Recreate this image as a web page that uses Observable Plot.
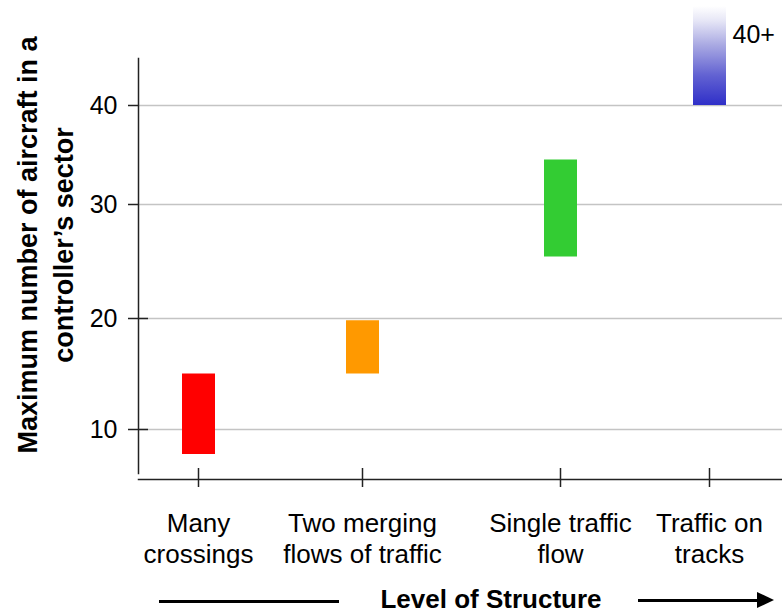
<!DOCTYPE html>
<html>
<head>
<meta charset="utf-8">
<script src="https://cdn.jsdelivr.net/npm/d3@7"></script>
<script src="https://cdn.jsdelivr.net/npm/@observablehq/plot@0.6"></script>
<style>
  html, body { margin: 0; padding: 0; background: #fff; }
  #wrap { position: relative; width: 782px; height: 613px; overflow: hidden; font-family: "Liberation Sans", Arial, sans-serif; }
  #wrap svg { display: block; }
  #caption { position: relative; width: 782px; height: 33px; }
  #caption .bar { position: absolute; height: 3px; background: #000; }
  #caption .head { position: absolute; width: 0; height: 0; border-left: 17px solid #000; border-top: 8.5px solid transparent; border-bottom: 8.5px solid transparent; }
  #caption .label { position: absolute; font-weight: bold; font-size: 26px; line-height: 26px; white-space: nowrap; transform: translateX(-50%); }
</style>
</head>
<body>
<div id="wrap"></div>
<script>
// ---- data ----
const categories = ["Many\ncrossings", "Two merging\nflows of traffic", "Single traffic\nflow", "Traffic on\ntracks"];
const lowValues  = [7.75, 15, 25.4, 40];
const highValues = [15, 19.8, 34.5, 50];
const barColors  = ["#ff0000", "#ff9900", "#33cc33", "url(#blueFade)"];
const yTicks = [10, 20, 30, 40];
const topLabel = "40+";
const yTitle = "Maximum number of aircraft in a\ncontroller\u2019s sector";
const xTitle = "Level of Structure";

const data = categories.map((c, i) => ({i, c, lo: lowValues[i], hi: highValues[i], color: barColors[i]}));
const idx = categories.map((_, i) => i);

const defsMark = (index, scales) => {
  const defs = d3.create("svg:defs");
  const g = defs.append("linearGradient")
    .attr("id", "blueFade")
    .attr("gradientUnits", "userSpaceOnUse")
    .attr("x1", 0).attr("x2", 0)
    .attr("y1", scales.y(lowValues[3]))
    .attr("y2", scales.y(highValues[3]));
  [[0, "#2f2fc8"], [0.3, "#6262d2"], [0.6, "#a8a8e2"], [0.85, "#e6e6f6"], [1, "#ffffff"]]
    .forEach(([o, c]) => g.append("stop").attr("offset", o).attr("stop-color", c));
  return defs.node();
};

const chart = Plot.plot({
  width: 782,
  height: 580,
  marginLeft: 138,
  marginRight: 0,
  marginTop: 58,
  marginBottom: 101,
  style: {fontFamily: "'Liberation Sans', Arial, sans-serif", fontSize: "25px", color: "#000", background: "#fff"},
  x: {type: "linear", domain: idx, range: [198, 362, 560, 709]},
  y: {type: "linear", domain: yTicks, range: [429, 318, 204, 105]},
  color: {type: "identity"},
  marks: [
    defsMark,
    Plot.gridY(yTicks, {stroke: "#c4c4c4", strokeOpacity: 1, strokeWidth: 1.5}),
    Plot.frame({anchor: "left", insetBottom: 6, stroke: "#222", strokeWidth: 1.5}),
    Plot.frame({anchor: "bottom", stroke: "#222", strokeWidth: 1.5}),
    Plot.axisY({ticks: yTicks, tickSize: 10, tickPadding: 11, label: null, fontSize: 25, stroke: "#222", strokeWidth: 1.5}),
    Plot.axisY({ticks: [10, 20], tickSize: 10, dx: 10, fill: "none", label: null, stroke: "#222", strokeWidth: 1.5}),
    Plot.axisX({ticks: idx, tickSize: 19, dy: -11, fill: "none", label: null, stroke: "#222", strokeWidth: 1.5}),
    Plot.axisX({ticks: idx, tickSize: 0, tickPadding: 30, tickFormat: i => categories[i], label: null, fontSize: 26, lineHeight: 1.2}),
    Plot.ruleX(data, {x: "i", y1: "lo", y2: "hi", stroke: "color", strokeWidth: 33}),
    Plot.text([topLabel], {x: () => 3, y: () => highValues[3], dx: 23, dy: 28, textAnchor: "start", lineAnchor: "middle", fontSize: 25}),
    Plot.text([yTitle], {frameAnchor: "left", rotate: -90, dx: -95, dy: -24, fontSize: 27, fontWeight: "bold", lineHeight: 1.33, textAnchor: "middle", lineAnchor: "middle"})
  ]
});

const wrap = document.getElementById("wrap");
wrap.appendChild(chart);

const cap = document.createElement("div");
cap.id = "caption";
cap.innerHTML =
  '<div class="bar" style="left:159px;width:180px;top:20px"></div>' +
  '<div class="label" style="left:491px;top:6px"></div>' +
  '<div class="bar" style="left:638px;width:122px;top:19px"></div>' +
  '<div class="head" style="left:757px;top:12px"></div>';
cap.querySelector(".label").textContent = xTitle;
wrap.appendChild(cap);
</script>
</body>
</html>
